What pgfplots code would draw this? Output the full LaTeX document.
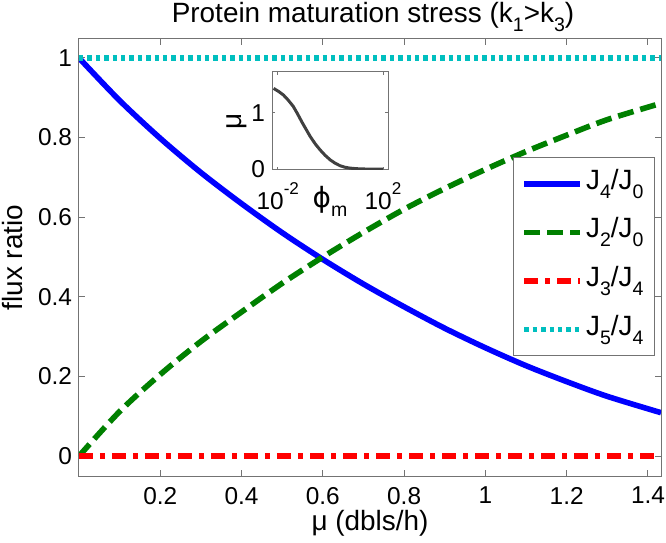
\documentclass[border=0pt]{standalone}
\usepackage{fontspec}
\setmainfont{Liberation Sans}
\newfontfamily\dejavu{DejaVu Sans}
\usepackage{pgfplots}
\pgfplotsset{compat=1.18}

\newcommand{\lo}[1]{\raisebox{-0.32em}{\scalebox{0.7}{#1}}}
\newcommand{\hi}[1]{\raisebox{0.6em}{\scalebox{0.7}{#1}}}

\definecolor{mgreen}{rgb}{0,0.5,0}
\definecolor{mcyan}{rgb}{0,0.75,0.75}
\definecolor{axgray}{gray}{0.45}

\pgfplotsset{
  mstyle/.style={
    scale only axis,
    anchor=south west,
    axis line style={axgray, line width=0.5bp},
    tick style={axgray, line width=0.5bp},
    tick align=inside,
    /pgf/number format/assume math mode=true,
    ticklabel style={font=\fontsize{12.25}{14}\selectfont, text=black},
    label style={font=\fontsize{14}{16}\selectfont},
  }
}

\begin{document}
\begin{tikzpicture}

% main axis
\begin{axis}[
  mstyle,
  name=main,
  at={(0,0)},
  width=291bp, height=218.5bp,
  xmin=0, xmax=1.432,
  ymin=-0.05, ymax=1.0475,
  xtick={0.2,0.4,0.6,0.8,1,1.2,1.4},
  ytick={0,0.2,0.4,0.6,0.8,1},
  major tick length=3bp,
  xticklabel style={yshift=-2bp},
  every axis title shift=0pt,
  title={Protein maturation stress (k\lo{1}>k\lo{3})},
  title style={at={(axis description cs:0.5,1)}, anchor=base, yshift=8bp, xshift=1.5bp, font=\fontsize{14}{16}\selectfont},
  xlabel={μ (dbls/h)},
  xlabel style={at={(axis description cs:0.5,-0.1236)}, anchor=base},
  ylabel={flux ratio},
  every axis y label/.style={at={(axis description cs:-0.1134,0.5)}, anchor=center, rotate=90, font=\fontsize{14}{16}\selectfont},
  legend style={at={(axis description cs:0.9897,0.730)}, anchor=north east,
    draw=axgray, line width=0.5bp, fill=white,
    font=\fontsize{14}{16}\selectfont,
    row sep=0pt, inner xsep=4bp, inner ysep=1bp,
    nodes={text height=10.5bp, text depth=5bp, inner ysep=4.4bp, inner xsep=1.5bp},
    cells={anchor=west}},
  legend image code/.code={\draw[#1] (0bp,0bp) -- (28bp,0bp);},
  every axis plot/.append style={line width=2.8bp},
]

% J4/J0
\addplot[blue, smooth] coordinates {
  (0.00,1.000) (0.10,0.893) (0.20,0.798) (0.30,0.712) (0.40,0.634)
  (0.50,0.561) (0.60,0.494) (0.70,0.432) (0.80,0.375) (0.90,0.321)
  (1.00,0.272) (1.10,0.227) (1.20,0.187) (1.30,0.150) (1.432,0.109)
};
% J2/J0
\addplot[mgreen, smooth, dash pattern=on 8bp off 3.5bp] coordinates {
  (0.00,0.000) (0.10,0.112) (0.20,0.205) (0.30,0.288) (0.40,0.362)
  (0.50,0.434) (0.60,0.500) (0.70,0.562) (0.80,0.620) (0.90,0.672)
  (1.00,0.720) (1.10,0.765) (1.20,0.806) (1.30,0.845) (1.432,0.886)
};
% J3/J4
\addplot[red, dash pattern=on 7bp off 3.5bp on 2.5bp off 3.5bp] coordinates {
  (0,0) (1.432,0)
};
% J5/J4
\addplot[mcyan, dash pattern=on 2.2bp off 2bp] coordinates {
  (0,1) (1.432,1)
};
\legend{J\lo{4}/J\lo{0}, J\lo{2}/J\lo{0}, J\lo{3}/J\lo{4}, J\lo{5}/J\lo{4}}
\end{axis}

% inset
\begin{axis}[
  mstyle,
  name=inset,
  at={(96.5bp,153bp)},
  width=58bp, height=49bp,
  xmode=log,
  xmin=0.006026, xmax=154.9,
  ymin=-0.015, ymax=1.72,
  xtick={0.01,100},
  xticklabels={10\hi{-2},10\hi{2}},
  xticklabel style={yshift=-3bp},
  xminorticks=false,
  ytick={0,1},
  major tick length=1.5bp,
  axis background/.style={fill=white},
  xlabel={{\dejavu ϕ}\lo{m}},
  xlabel style={at={(axis description cs:0.5,0)}, anchor=base, yshift=-19bp},
  ylabel={μ},
  every axis y label/.style={at={(axis description cs:-0.30,0.5)}, anchor=center, rotate=90, font=\fontsize{14}{16}\selectfont},
]
\addplot[black!75, line width=1.5bp] coordinates {
  (0.00692,1.43) (0.01122,1.37) (0.01660,1.31) (0.02512,1.22)
  (0.03890,1.11) (0.05623,0.98) (0.08128,0.84) (0.11749,0.71)
  (0.16982,0.58) (0.26303,0.45) (0.40738,0.34) (0.63096,0.245)
  (0.97724,0.165) (1.51356,0.105) (2.34423,0.060) (3.63078,0.033)
  (5.62341,0.018) (10.0,0.008) (17.7828,0.003) (39.8107,0.001)
  (100.0,0.0)
};
\end{axis}

\pgfresetboundingbox
\path (-39.5bp,-33.5bp) rectangle (293.5bp,238bp);
\end{tikzpicture}
\end{document}
